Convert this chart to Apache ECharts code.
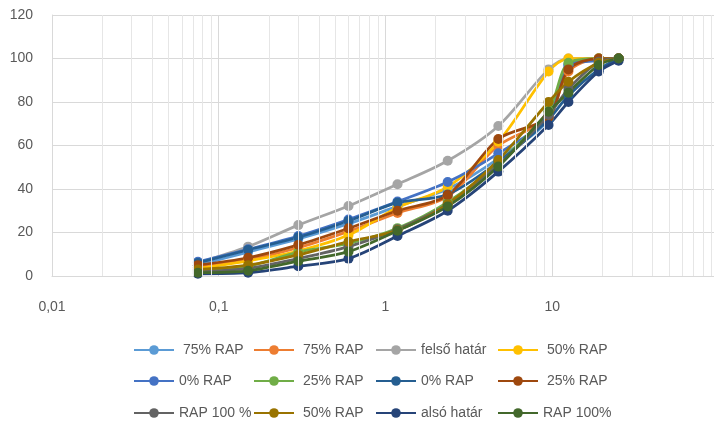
<!DOCTYPE html>
<html>
<head>
<meta charset="utf-8">
<script src="https://cdn.jsdelivr.net/npm/echarts@6/dist/echarts.min.js"></script>
<style>
    html, body { margin: 0; padding: 0; background: #fff; }
    #chart { width: 714px; height: 429px; }
</style>
</head>
<body>
<div id="chart"></div>
<script>
// szitaméretek (mm)
var sieve = [0.075, 0.15, 0.3, 0.6, 1.18, 2.36, 4.75, 9.5, 12.5, 19, 25];

var rap75a = [5, 11, 17, 24, 32, 40, 54, 72, 97, 100, 100];
var rap75b = [4, 7.5, 13, 20.5, 29, 36.5, 60, 73, 94, 100, 100];
var felso = [6, 13.5, 23.4, 32.2, 42.2, 53, 69, 95, 100, 100, 100];
var rap50a = [3.5, 7, 11.5, 18.8, 31.5, 41, 61.7, 94, 100, 100, 100];
var rap0a = [6.5, 12.3, 18.4, 26, 34.2, 43.2, 56.4, 73, 97, 99, 100];
var rap25a = [2.5, 4.5, 11, 15, 22, 34, 52, 76, 98, 100, 100];
var rap0b = [6, 12, 17.8, 25.3, 33.7, 37.5, 52.5, 72, 83, 95, 100];
var rap25b = [5, 8.4, 14.3, 21.9, 30, 37.2, 63, 73, 95, 100, 100];
var rap100a = [2, 3.5, 8, 13.5, 21.5, 33, 51, 74, 86, 98.5, 100];
var rap50b = [3, 5, 9.7, 15.8, 21, 33, 53.3, 80, 89.3, 98, 100];
var also = [1, 1.5, 4.5, 8, 18.4, 30, 48, 69.4, 80, 94, 99];
var rap100b = [1.5, 2.4, 6.8, 11.2, 20.8, 32, 50.3, 75.5, 84.3, 97, 100];

var names = [" 75% RAP", " 75% RAP ", "felső határ", " 50% RAP",
             "0% RAP", " 25% RAP", "0% RAP ", " 25% RAP ",
             "RAP 100 %", " 50% RAP ", "alsó határ", "RAP 100%"];
var values = [rap75a, rap75b, felso, rap50a, rap0a, rap25a, rap0b, rap25b, rap100a, rap50b, also, rap100b];
var colors = ["#5B9BD5", "#ED7D31", "#A5A5A5", "#FFC000", "#4472C4", "#70AD47",
              "#255E91", "#9E480E", "#636363", "#997300", "#264478", "#43682B"];

var chart = echarts.init(document.getElementById("chart"));

var series = [];
var legends = [];
var colLeft = [133, 253, 375, 497];
var rowTop = [343, 374, 406];

for (var i = 0; i < names.length; i++) {
    var pts = [];
    for (var j = 0; j < sieve.length; j++) {
        pts.push([sieve[j], values[i][j]]);
    }
    series.push({
        name: names[i],
        type: "line",
        data: pts,
        smooth: 0.3,
        symbol: "circle",
        symbolSize: 10,
        color: colors[i],
        lineStyle: { width: 2.75, color: colors[i] },
        itemStyle: { color: colors[i] }
    });
    legends.push({
        data: [names[i]],
        left: colLeft[i % 4],
        top: rowTop[Math.floor(i / 4)],
        padding: 0,
        itemWidth: 40,
        itemHeight: 12,
        itemGap: 0,
        selectedMode: false,
        textStyle: { fontSize: 14, color: "#595959", fontFamily: "Liberation Sans, Arial, sans-serif" }
    });
}

// log rács vékony vonalai
var minor = [];
[0.01, 0.1, 1, 10].forEach(function (d) {
    for (var k = 2; k <= 9; k++) {
        minor.push({ xAxis: +(k * d).toPrecision(4) });
    }
});
series.unshift({
    name: "grid",
    type: "line",
    data: [],
    silent: true,
    markLine: {
        silent: true,
        symbol: "none",
        label: { show: false },
        lineStyle: { color: "#e6e6e6", width: 1, type: "solid" },
        data: minor
    }
});

var option = {
    animation: false,
    textStyle: { fontFamily: "Liberation Sans, Arial, sans-serif" },
    legend: legends,
    grid: { left: 52, top: 15, width: 667, height: 261, containLabel: false, outerBoundsMode: "none" },
    xAxis: {
        type: "log",
        logBase: 10,
        min: 0.01,
        max: 100,
        axisLine: { show: true, lineStyle: { color: "#d9d9d9", width: 1 } },
        axisTick: { show: false },
        splitLine: { show: true, lineStyle: { color: "#d9d9d9", width: 1 } },
        axisLabel: {
            color: "#595959",
            fontSize: 14,
            margin: 24,
            formatter: function (v) {
                if (v >= 100) return "";
                return String(+v.toPrecision(6)).replace(".", ",");
            }
        }
    },
    yAxis: {
        type: "value",
        min: 0,
        max: 120,
        interval: 20,
        axisLine: { show: true, lineStyle: { color: "#d9d9d9", width: 1 } },
        axisTick: { show: false },
        splitLine: { show: true, lineStyle: { color: "#d9d9d9", width: 1 } },
        axisLabel: { color: "#595959", fontSize: 14, margin: 19 }
    },
    series: series
};

chart.setOption(option);
</script>
</body>
</html>
